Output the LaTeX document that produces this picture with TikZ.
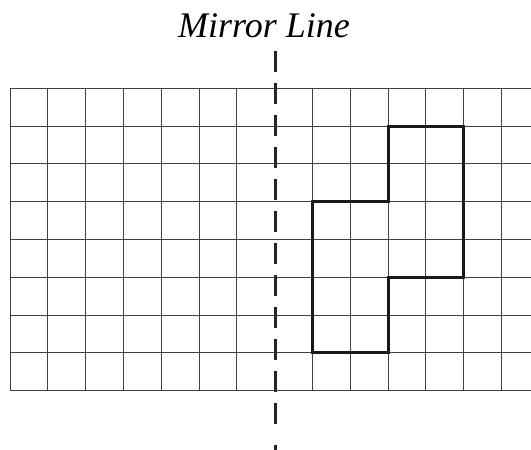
\documentclass[tikz,border=0pt]{standalone}
\usepackage{fontspec}
\setmainfont{Liberation Serif}
\begin{document}
\begin{tikzpicture}[x=1pt,y=-1pt,
  gridline/.style={draw=black!75,line width=0.9pt},
  outline/.style={draw=black!90,line width=3pt,line join=miter},
  mirror/.style={draw=black!85,line width=3pt,dash pattern=on 21pt off 11pt}]
\useasboundingbox (0,0) rectangle (531,450);
\def\cs{37.8}
% grid
\foreach \j in {0,...,8} {
  \draw[gridline] (10,{88.3+\cs*\j}) -- (531,{88.3+\cs*\j});
}
\foreach \k in {0,...,6,8,9,10,11,12,13} {
  \draw[gridline] ({10+\cs*\k},88.3) -- ({10+\cs*\k},{88.3+8*\cs});
}
% shape
\draw[outline]
  ({10+\cs*10},{88.3+\cs*1}) -- ({10+\cs*12},{88.3+\cs*1}) --
  ({10+\cs*12},{88.3+\cs*5}) -- ({10+\cs*10},{88.3+\cs*5}) --
  ({10+\cs*10},{88.3+\cs*7}) -- ({10+\cs*8},{88.3+\cs*7}) --
  ({10+\cs*8},{88.3+\cs*3}) -- ({10+\cs*10},{88.3+\cs*3}) -- cycle;
% mirror line
\coordinate (mtop) at (275.2,51);
\coordinate (mmid) at (275.2,424);
\coordinate (mlow) at (275.2,445);
\coordinate (mbot) at (275.2,450);
\draw[mirror] (mtop) -- (mmid);
\draw[draw=black!85,line width=3pt] (mlow) -- (mbot);
\node[anchor=base,inner sep=0pt,font=\fontsize{36}{40}\selectfont\itshape] (title) at (264,37) {Mirror Line};
\end{tikzpicture}
\end{document}
